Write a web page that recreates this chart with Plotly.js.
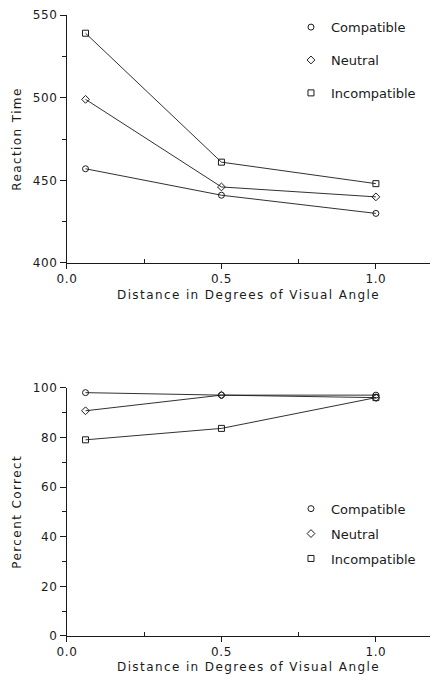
<!DOCTYPE html>
<html>
<head>
<meta charset="utf-8">
<script src="https://cdn.plot.ly/plotly-3.0.1.min.js"></script>
<style>
  html, body { margin: 0; padding: 0; background: #fff; }
  #chart { width: 433px; height: 674px; }
  /* airy, typewriter-like spacing for the axis titles */
  #chart .g-xtitle text, #chart .g-ytitle text,
  #chart .g-x2title text, #chart .g-y2title text { letter-spacing: 1.4px; }
  #chart .xtick text, #chart .ytick text,
  #chart .x2tick text, #chart .y2tick text { letter-spacing: 0.6px; }
</style>
</head>
<body>
<div id="chart"></div>
<script>
// Distance between target and flankers (degrees of visual angle)
const distance = [0.06, 0.5, 1.0];

// Mean reaction time (ms) by flanker condition
const rtCompatible   = [457, 441, 430];
const rtNeutral      = [499, 446, 440];
const rtIncompatible = [539, 461, 448];

// Percent correct by flanker condition
const pcCompatible   = [98, 97, 97];
const pcNeutral      = [90.7, 97, 96];
const pcIncompatible = [79, 83.6, 96];

const conditionNames = ['Compatible', 'Neutral', 'Incompatible'];
const conditionSymbols = ['circle-open', 'diamond-open', 'square-open'];

const xTickVals = [0, 0.5, 1.0];
const xTickText = ['0.0', '0.5', '1.0'];
const xMinorTicks = [0.25, 0.75];
const rtTickVals = [400, 450, 500, 550];
const rtMinorTicks = [425, 475, 525];
const pcTickVals = [0, 20, 40, 60, 80, 100];
const pcMinorTicks = [10, 30, 50, 70, 90];

const ink = '#1a1a1a';
const fontFamily = 'DejaVu Sans, Verdana, sans-serif';

function series(y, i, xa, ya) {
  return {
    x: distance, y: y, xaxis: xa, yaxis: ya,
    type: 'scatter', mode: 'lines+markers',
    name: conditionNames[i], showlegend: false,
    line: { color: ink, width: 0.9 },
    marker: { symbol: conditionSymbols[i], size: 6, color: ink, line: { width: 1, color: ink } }
  };
}

// Marker-only legend entries
function key(i, xa, ya, legendId) {
  return {
    x: [null], y: [null], xaxis: xa, yaxis: ya,
    type: 'scatter', mode: 'markers',
    name: conditionNames[i], legend: legendId, legendgroup: legendId + i,
    marker: { symbol: conditionSymbols[i], size: 6, color: ink, line: { width: 1, color: ink } }
  };
}

const rtSeries = [rtCompatible, rtNeutral, rtIncompatible];
const pcSeries = [pcCompatible, pcNeutral, pcIncompatible];

const traces = [];
rtSeries.forEach((s, i) => traces.push(series(s, i, 'x', 'y')));
pcSeries.forEach((s, i) => traces.push(series(s, i, 'x2', 'y2')));
conditionNames.forEach((_, i) => traces.push(key(i, 'x', 'y', 'legend')));
conditionNames.forEach((_, i) => traces.push(key(i, 'x2', 'y2', 'legend2')));

function xAxis(anchor) {
  return {
    anchor: anchor, domain: [0.1547, 0.993], range: [0, 1.175],
    tickvals: xTickVals, ticktext: xTickText,
    ticks: 'outside', ticklen: 5, tickwidth: 1, tickcolor: ink,
    minor: { tickvals: xMinorTicks, ticks: 'inside', ticklen: 4, tickcolor: ink },
    showline: true, linecolor: ink, linewidth: 1,
    showgrid: false, zeroline: false, automargin: false,
    tickfont: { family: fontFamily, size: 12, color: ink },
    title: { text: 'Distance in Degrees of Visual Angle', standoff: 5,
             font: { family: fontFamily, size: 12, color: ink } }
  };
}

function yAxis(anchor, domain, range, vals, minor, title) {
  return {
    anchor: anchor, domain: domain, range: range,
    tickvals: vals, ticks: 'outside', ticklen: 6, tickwidth: 1, tickcolor: ink,
    minor: { tickvals: minor, ticks: 'outside', ticklen: 4, tickcolor: ink },
    showline: true, linecolor: ink, linewidth: 1,
    showgrid: false, zeroline: false, automargin: false,
    tickfont: { family: fontFamily, size: 12, color: ink },
    title: { text: title, standoff: 10, font: { family: fontFamily, size: 12, color: ink } }
  };
}

const legendStyle = {
  font: { family: fontFamily, size: 13, color: ink },
  bgcolor: 'rgba(0,0,0,0)', borderwidth: 0,
  traceorder: 'grouped', itemwidth: 30,
  xanchor: 'left', yanchor: 'top'
};

const layout = {
  width: 433, height: 674,
  margin: { l: 0, r: 0, t: 0, b: 0 },
  paper_bgcolor: '#fff', plot_bgcolor: '#fff',
  font: { family: fontFamily, size: 12, color: ink },
  xaxis: xAxis('y'),
  yaxis: yAxis('x', [0.6098, 0.9777], [400, 550], rtTickVals, rtMinorTicks, 'Reaction Time'),
  xaxis2: xAxis('y2'),
  yaxis2: yAxis('x2', [0.0564, 0.4248], [0, 100], pcTickVals, pcMinorTicks, 'Percent Correct'),
  legend: Object.assign({}, legendStyle, { x: 0.672, y: 0.982, tracegroupgap: 13 }),
  legend2: Object.assign({}, legendStyle, { x: 0.672, y: 0.2675, tracegroupgap: 5 }),
  showlegend: true
};

Plotly.newPlot('chart', traces, layout, { staticPlot: true, displayModeBar: false });
</script>
</body>
</html>
